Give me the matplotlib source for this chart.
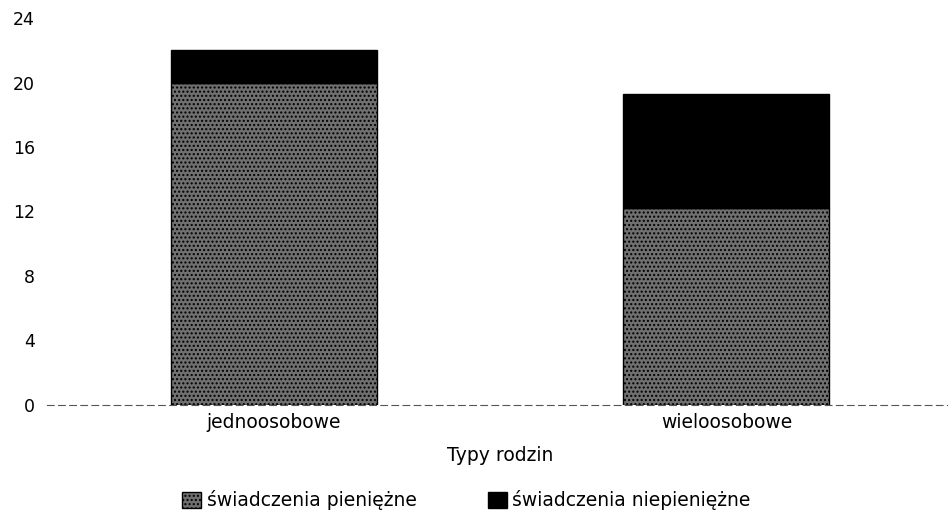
import matplotlib
matplotlib.use('Agg')
import matplotlib.pyplot as plt

# data
categories = ['jednoosobowe', 'wieloosobowe']
pieniezne = [20.0, 12.2]
niepieniezne = [2.0, 7.1]
series_names = ['świadczenia pieniężne', 'świadczenia niepieniężne']
yticks = [0, 4, 8, 12, 16, 20, 24]

plt.rcParams['font.family'] = ['DejaVu Sans']

fig = plt.figure(figsize=(9.48, 5.19), dpi=100)
ax = fig.add_axes([0.05, 0.22, 0.955, 0.745])

x = range(len(categories))
ax.bar(x, pieniezne, width=0.455, color='#707070', edgecolor='black',
       hatch='....', linewidth=1.0, label=series_names[0])
ax.bar(x, niepieniezne, width=0.455, bottom=pieniezne, color='black',
       edgecolor='black', linewidth=1.0, label=series_names[1])

ax.set_xlim(-0.5, 1.5)
ax.set_ylim(0, 24)
ax.set_yticks(yticks)
ax.set_xticks(list(x))
ax.set_xticklabels(categories, fontsize=13.5)
ax.tick_params(length=0, pad=6)
ax.tick_params(axis='y', labelsize=12.5, pad=9)
for s in ['top', 'right', 'left']:
    ax.spines[s].set_visible(False)
ax.spines['bottom'].set_linestyle((0, (6, 4)))
ax.spines['bottom'].set_color('#555555')
ax.set_xlabel('Typy rodzin', fontsize=13.5, labelpad=10)

fig.legend(loc='center', bbox_to_anchor=(0.492, 0.036), ncol=2,
           frameon=False, fontsize=13.5, handlelength=1.0, handleheight=0.9,
           columnspacing=3.8, handletextpad=0.3, borderpad=0)

fig.savefig('out.png', dpi=100)
